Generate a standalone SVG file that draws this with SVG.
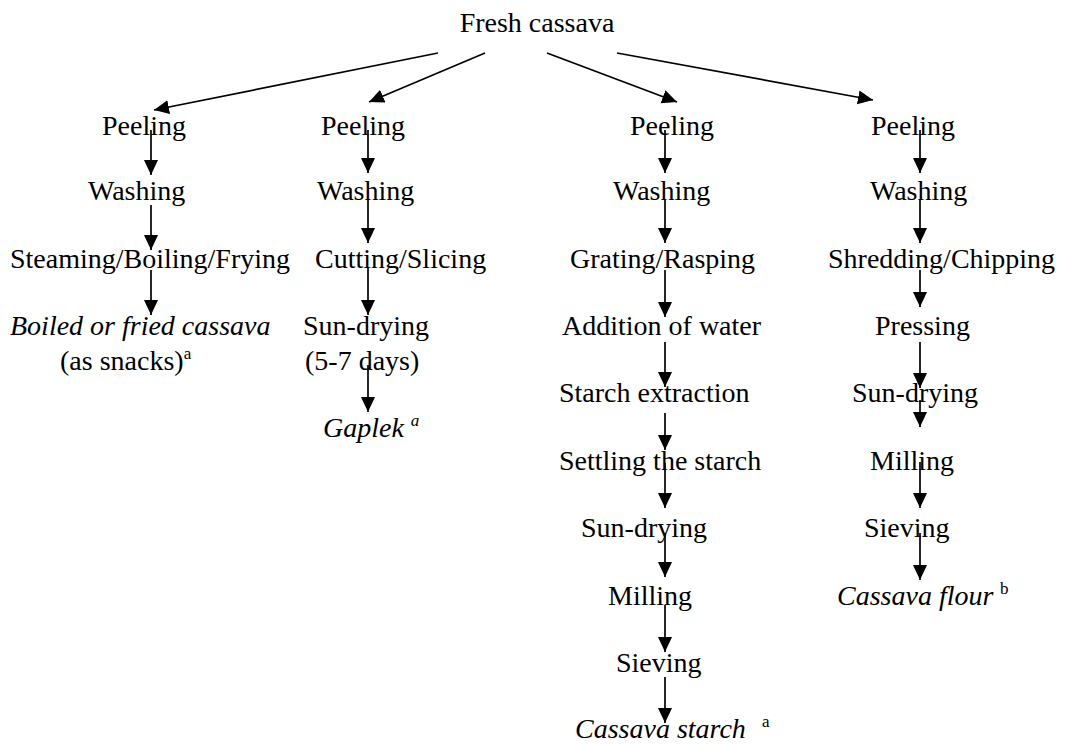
<svg xmlns="http://www.w3.org/2000/svg" width="1080" height="744" viewBox="0 0 1080 744">
<style>
text{font-family:"Liberation Serif","Times New Roman",serif;font-size:28px;fill:#000}
.i{font-style:italic}
.s{font-size:17px;font-style:normal}
.si{font-size:17px;font-style:italic}
.c line{stroke:#000;stroke-width:1.7;marker-end:url(#ah)}
</style>
<defs>
<marker id="ah" markerUnits="userSpaceOnUse" markerWidth="16" markerHeight="15" refX="15" refY="7" orient="auto">
<path d="M0,0 L15,7 L0,14 z" fill="#000"/>
</marker>
</defs>
<rect width="1080" height="744" fill="#fff"/>
<g id="root"><text x="537" y="32" text-anchor="middle">Fresh cassava</text></g>

<g id="c1-peeling"><text x="102" y="135">Peeling</text></g>
<g id="c1-washing"><text x="88" y="200">Washing</text></g>
<g id="c1-steaming"><text x="10" y="268">Steaming/Boiling/Frying</text></g>
<g id="c1-product"><text x="10" y="335" class="i">Boiled or fried cassava</text><text x="60" y="370">(as snacks)<tspan class="s" dy="-11">a</tspan></text></g>

<g id="c2-peeling"><text x="321" y="135">Peeling</text></g>
<g id="c2-washing"><text x="317" y="200">Washing</text></g>
<g id="c2-cutting"><text x="315" y="268">Cutting/Slicing</text></g>
<g id="c2-sundrying"><text x="303" y="335">Sun-drying</text><text x="305" y="370">(5-7 days)</text></g>
<g id="c2-product"><text x="323" y="437" class="i">Gaplek <tspan class="si" dy="-11">a</tspan></text></g>

<g id="c3-peeling"><text x="630" y="135">Peeling</text></g>
<g id="c3-washing"><text x="613" y="200">Washing</text></g>
<g id="c3-grating"><text x="570" y="268">Grating/Rasping</text></g>
<g id="c3-water"><text x="562" y="335">Addition of water</text></g>
<g id="c3-extraction"><text x="559" y="402">Starch extraction</text></g>
<g id="c3-settling"><text x="559" y="470">Settling the starch</text></g>
<g id="c3-sundrying"><text x="581" y="537">Sun-drying</text></g>
<g id="c3-milling"><text x="608" y="605">Milling</text></g>
<g id="c3-sieving"><text x="616" y="672">Sieving</text></g>
<g id="c3-product"><text x="575" y="738" class="i">Cassava starch</text><text x="762" y="727" class="s">a</text></g>

<g id="c4-peeling"><text x="871" y="135">Peeling</text></g>
<g id="c4-washing"><text x="870" y="200">Washing</text></g>
<g id="c4-shredding"><text x="828" y="268">Shredding/Chipping</text></g>
<g id="c4-pressing"><text x="875" y="335">Pressing</text></g>
<g id="c4-sundrying"><text x="852" y="402">Sun-drying</text></g>
<g id="c4-milling"><text x="870" y="470">Milling</text></g>
<g id="c4-sieving"><text x="864" y="537">Sieving</text></g>
<g id="c4-product"><text x="837" y="605" class="i">Cassava flour</text><text x="1000" y="594" class="s">b</text></g>

<g id="connectors" class="c">
<line x1="438" y1="53" x2="154" y2="110"/>
<line x1="485" y1="53" x2="369" y2="102"/>
<line x1="547" y1="53" x2="677" y2="102"/>
<line x1="617" y1="53" x2="873" y2="100"/>

<line x1="151" y1="130" x2="151" y2="175"/>
<line x1="151" y1="205" x2="151" y2="250"/>
<line x1="151" y1="270" x2="151" y2="315"/>

<line x1="368" y1="130" x2="368" y2="173"/>
<line x1="368" y1="200" x2="368" y2="243"/>
<line x1="368" y1="268" x2="368" y2="315"/>
<line x1="368" y1="365" x2="368" y2="412"/>

<line x1="665" y1="130" x2="665" y2="173"/>
<line x1="665" y1="200" x2="665" y2="243"/>
<line x1="665" y1="270" x2="665" y2="317"/>
<line x1="665" y1="342" x2="665" y2="387"/>
<line x1="665" y1="413" x2="665" y2="450"/>
<line x1="665" y1="463" x2="665" y2="508"/>
<line x1="665" y1="533" x2="665" y2="577"/>
<line x1="665" y1="605" x2="665" y2="652"/>
<line x1="665" y1="677" x2="665" y2="723"/>

<line x1="920" y1="130" x2="920" y2="173"/>
<line x1="920" y1="200" x2="920" y2="243"/>
<line x1="920" y1="270" x2="920" y2="307"/>
<line x1="920" y1="342" x2="920" y2="388"/>
<line x1="920" y1="400" x2="920" y2="427"/>
<line x1="920" y1="462" x2="920" y2="508"/>
<line x1="920" y1="533" x2="920" y2="580"/>
</g>
</svg>
